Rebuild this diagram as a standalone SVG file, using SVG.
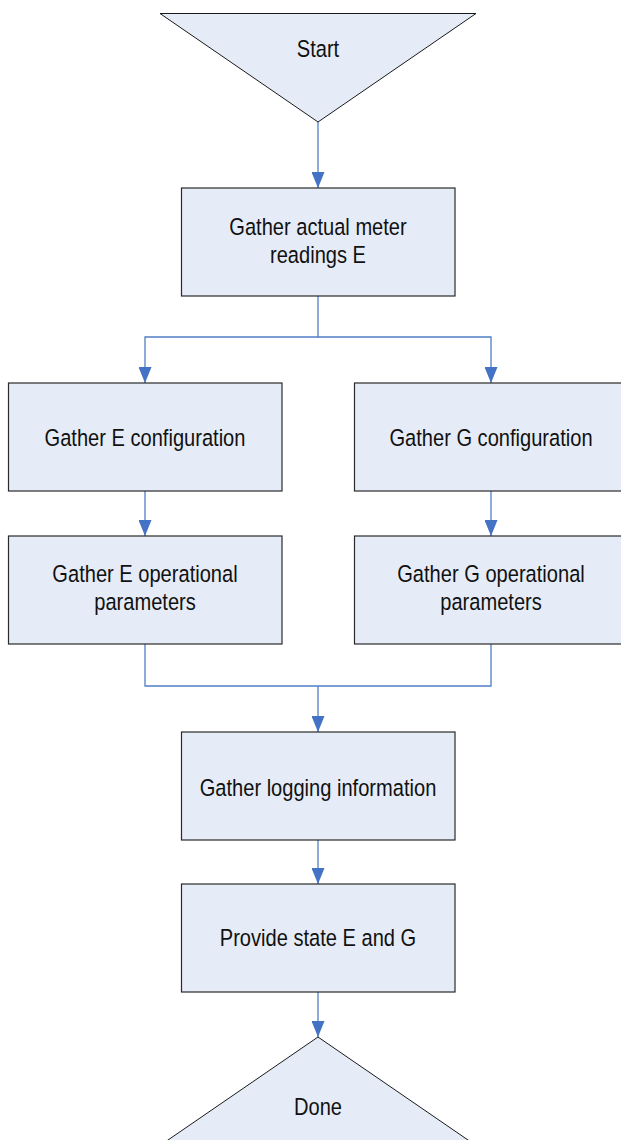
<svg xmlns="http://www.w3.org/2000/svg" width="621" height="1140" viewBox="0 0 621 1140">
  <defs>
    <style>
      .node { fill: #E6ECF7; stroke: #2a2a2a; stroke-width: 1.2; }
      .term { fill: #E6ECF7; stroke: #1a1a1a; stroke-width: 1; }
      .lbl { font-family: "Liberation Sans", Arial, sans-serif; font-size: 24.5px; fill: #111; text-anchor: middle; }
      .edge { fill: none; stroke: #4F7FC6; stroke-width: 1.3; }
    </style>
    <marker id="arrow" markerUnits="userSpaceOnUse" markerWidth="16" markerHeight="13" refX="16" refY="6.5" orient="auto" viewBox="0 0 16 13">
      <path d="M0,0 L16,6.5 L0,13 Z" fill="#4472C4"/>
    </marker>
  </defs>

  <rect width="621" height="1140" fill="#ffffff"/>

  <!-- connectors -->
  <g id="connectors">
    <path class="edge" d="M318,122 V188" marker-end="url(#arrow)"/>
    <path class="edge" d="M318,296 V337 H145 V383" marker-end="url(#arrow)"/>
    <path class="edge" d="M318,337 H491 V383" marker-end="url(#arrow)"/>
    <path class="edge" d="M145,491 V536" marker-end="url(#arrow)"/>
    <path class="edge" d="M491,491 V536" marker-end="url(#arrow)"/>
    <path class="edge" d="M145,644 V686 H491 V644"/>
    <path class="edge" d="M318,686 V732" marker-end="url(#arrow)"/>
    <path class="edge" d="M318,840 V884" marker-end="url(#arrow)"/>
    <path class="edge" d="M318,992 V1037" marker-end="url(#arrow)"/>
  </g>

  <!-- start terminator -->
  <g id="start">
    <polygon class="term" points="160,13.5 476,13.5 318,122"/>
    <text class="lbl" transform="translate(318,57) scale(0.82,1)">Start</text>
  </g>

  <g id="gather-readings">
    <rect class="node" x="181.5" y="188" width="273.5" height="108"/>
    <text class="lbl" transform="translate(318,235) scale(0.82,1)">Gather actual meter</text>
    <text class="lbl" transform="translate(318,263) scale(0.82,1)">readings E</text>
  </g>

  <g id="gather-e-config">
    <rect class="node" x="8.5" y="383" width="273.5" height="108"/>
    <text class="lbl" transform="translate(145,446) scale(0.82,1)">Gather E configuration</text>
  </g>

  <g id="gather-g-config">
    <rect class="node" x="354.5" y="383" width="273.5" height="108"/>
    <text class="lbl" transform="translate(491,446) scale(0.82,1)">Gather G configuration</text>
  </g>

  <g id="gather-e-params">
    <rect class="node" x="8.5" y="536" width="273.5" height="108"/>
    <text class="lbl" transform="translate(145,582) scale(0.82,1)">Gather E operational</text>
    <text class="lbl" transform="translate(145,610) scale(0.82,1)">parameters</text>
  </g>

  <g id="gather-g-params">
    <rect class="node" x="354.5" y="536" width="273.5" height="108"/>
    <text class="lbl" transform="translate(491,582) scale(0.82,1)">Gather G operational</text>
    <text class="lbl" transform="translate(491,610) scale(0.82,1)">parameters</text>
  </g>

  <g id="gather-logging">
    <rect class="node" x="181.5" y="732" width="273.5" height="108"/>
    <text class="lbl" transform="translate(318,796) scale(0.82,1)">Gather logging information</text>
  </g>

  <g id="provide-state">
    <rect class="node" x="181.5" y="884" width="273.5" height="108"/>
    <text class="lbl" transform="translate(318,946) scale(0.82,1)">Provide state E and G</text>
  </g>

  <!-- end terminator -->
  <g id="done">
    <polygon class="term" points="318,1037 476,1145.5 160,1145.5"/>
    <text class="lbl" transform="translate(318,1115) scale(0.82,1)">Done</text>
  </g>
</svg>
